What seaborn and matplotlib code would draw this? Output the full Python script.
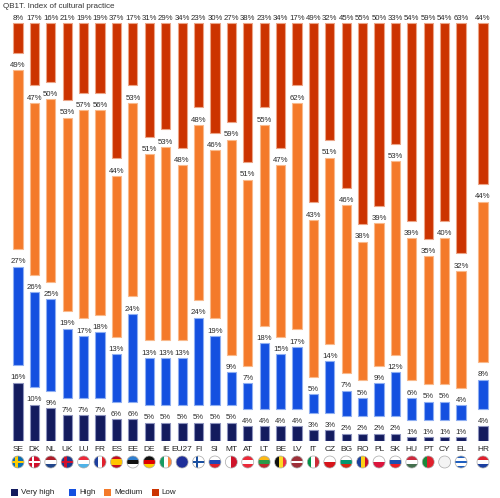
import numpy as np
import pandas as pd
import matplotlib
matplotlib.use("Agg")
import matplotlib.pyplot as plt
import seaborn as sns
from matplotlib.patches import Rectangle, Circle
from matplotlib.transforms import IdentityTransform

# ---------------- data ----------------
countries = ["SE", "DK", "NL", "UK", "LU", "FR", "ES", "EE", "DE", "IE", "EU27", "FI", "SI", "MT",
             "AT", "LT", "BE", "LV", "IT", "CZ", "BG", "RO", "PL", "SK", "HU", "PT", "CY", "EL", "HR"]
very_high = [16, 10, 9, 7, 7, 7, 6, 6, 5, 5, 5, 5, 5, 5, 4, 4, 4, 4, 3, 3, 2, 2, 2, 2, 1, 1, 1, 1, 4]
high = [27, 26, 25, 19, 17, 18, 13, 24, 13, 13, 13, 24, 19, 9, 7, 18, 15, 17, 5, 14, 7, 5, 9, 12, 6, 5, 5, 4, 8]
medium = [49, 47, 50, 53, 57, 56, 44, 53, 51, 53, 48, 48, 46, 59, 51, 55, 47, 62, 43, 51, 46, 38, 39, 53, 39, 35, 40, 32, 44]
low = [8, 17, 16, 21, 19, 19, 37, 17, 31, 29, 34, 23, 30, 27, 38, 23, 34, 17, 49, 32, 45, 55, 50, 33, 54, 59, 54, 63, 44]
series_names = ["Very high", "High", "Medium", "Low"]
title = "QB1T. Index of cultural practice"

# ---------------- style ----------------
colors = ["#131b5e", "#1450e0", "#f47a2a", "#cc3300"]
edges = ["#8d93bd", "#8eaef2", "#f9b98b", "#eca486"]

flags = {
    "SE": ("x", "#0a6fb4", "#ffcc00"), "DK": ("x", "#d0102c", "#ffffff"),
    "NL": ("h", ["#ae1c28", "#ffffff", "#21468b"]), "UK": ("x", "#1b3a8c", "#d0102c"),
    "LU": ("h", ["#ed2939", "#ffffff", "#4fb3e8"]), "FR": ("v", ["#1d3f9e", "#ffffff", "#e2202c"]),
    "ES": ("h", ["#c60b1e", "#ffc400", "#ffc400", "#c60b1e"]), "EE": ("h", ["#2f7fd0", "#111111", "#ffffff"]),
    "DE": ("h", ["#111111", "#dd0000", "#ffce00"]), "IE": ("v", ["#169b62", "#ffffff", "#ff883e"]),
    "EU27": ("s", "#1f2f9a"), "FI": ("x", "#ffffff", "#1a4fa0"),
    "SI": ("h", ["#ffffff", "#1e47b5", "#e0202c"]), "MT": ("v", ["#ffffff", "#cf142b"]),
    "AT": ("h", ["#ed2939", "#ffffff", "#ed2939"]), "LT": ("h", ["#fdb913", "#2a9a48", "#c1272d"]),
    "BE": ("v", ["#111111", "#fdda24", "#ef3340"]), "LV": ("h", ["#9e3039", "#9e3039", "#ffffff", "#9e3039", "#9e3039"]),
    "IT": ("v", ["#009246", "#ffffff", "#ce2b37"]), "CZ": ("h", ["#ffffff", "#d7141a"]),
    "BG": ("h", ["#ffffff", "#00966e", "#d62612"]), "RO": ("v", ["#1a3fa0", "#fcd116", "#ce1126"]),
    "PL": ("h", ["#ffffff", "#dc143c"]), "SK": ("h", ["#ffffff", "#1b4fb0", "#ee1c25"]),
    "HU": ("h", ["#cd2a3e", "#ffffff", "#436f4d"]), "PT": ("v", ["#1a8a3a", "#1a8a3a", "#e0202c", "#e0202c", "#e0202c"]),
    "CY": ("s", "#f4f4f4"), "EL": ("h", ["#1f5fc0", "#ffffff", "#1f5fc0", "#ffffff", "#1f5fc0"]),
    "HR": ("h", ["#e0202c", "#ffffff", "#1b3fa0"]),
}

sns.set_theme(style="white")
plt.rcParams["font.family"] = ["Liberation Sans", "DejaVu Sans"]

W, H = 500, 498
fig = plt.figure(figsize=(W / 100, H / 100), dpi=100)

PX0 = 18.0          # pixel centre of first bar
STEP = 16.41        # pixel distance between bars
BASE = 441.0        # pixel row of the baseline (from top)
TOP = 10.0
ax = fig.add_axes([0, (H - BASE) / H, 1, (BASE - TOP) / H])

n = len(countries)
xpos = np.arange(n, dtype=float)
xpos[-1] = (483 - PX0) / STEP
minstep = np.min(np.diff(xpos))
GAP = 4.8
PX_PER_UNIT = 3.65

bottom = np.zeros(n)
for k, vals in enumerate([very_high, high, medium, low]):
    vals = np.asarray(vals, dtype=float)
    df = pd.DataFrame({"pos": xpos, "val": vals})
    sns.barplot(data=df, x="pos", y="val", native_scale=True, width=0.56 / minstep,
                color=colors[k], saturation=1, edgecolor=edges[k], linewidth=0.8,
                bottom=bottom, errorbar=None, ax=ax)
    for x, b, v in zip(xpos, bottom, vals):
        ax.text(x, b + v + 0.35, f"{int(v)}%", ha="center", va="bottom",
                fontsize=5.6, color="#2a2a2a")
    bottom = bottom + vals + GAP

ax.set_xlim(-PX0 / STEP, (W - PX0) / STEP)
ax.set_ylim(0, (BASE - TOP) / PX_PER_UNIT)
ax.set_xticks(xpos)
ax.set_xticklabels(countries, fontsize=6, color="#222222")
ax.tick_params(axis="x", length=0, pad=3.5)
ax.set_yticks([])
ax.set_xlabel("")
ax.set_ylabel("")
for s in ax.spines.values():
    s.set_visible(False)

fig.text(3 / W, 1 - 6.5 / H, title, fontsize=5.8, va="center", ha="left", color="#333333")

# ---------------- flags ----------------
ident = IdentityTransform()
R = 6.0
CY_PX = H - 462
for c, x in zip(countries, xpos):
    cx = PX0 + STEP * x
    circ = Circle((cx, CY_PX), R, transform=ident, facecolor="none",
                  edgecolor="#a8a8a8", linewidth=0.5, zorder=5)
    clip = Circle((cx, CY_PX), R, transform=ident)
    spec = flags[c]
    parts = []
    if spec[0] == "s":
        parts.append(Rectangle((cx - R, CY_PX - R), 2 * R, 2 * R, facecolor=spec[1]))
    elif spec[0] == "h":
        m = len(spec[1])
        for i, col in enumerate(spec[1]):
            y0 = CY_PX + R - (i + 1) * 2 * R / m
            parts.append(Rectangle((cx - R, y0), 2 * R, 2 * R / m, facecolor=col))
    elif spec[0] == "v":
        m = len(spec[1])
        for i, col in enumerate(spec[1]):
            x0 = cx - R + i * 2 * R / m
            parts.append(Rectangle((x0, CY_PX - R), 2 * R / m, 2 * R, facecolor=col))
    elif spec[0] == "x":
        parts.append(Rectangle((cx - R, CY_PX - R), 2 * R, 2 * R, facecolor=spec[1]))
        parts.append(Rectangle((cx - R, CY_PX - 1.3), 2 * R, 2.6, facecolor=spec[2]))
        parts.append(Rectangle((cx - 2.8, CY_PX - R), 2.6, 2 * R, facecolor=spec[2]))
    for p in parts:
        p.set_transform(ident)
        p.set_linewidth(0)
        p.set_clip_path(clip)
        fig.add_artist(p)
    fig.add_artist(circ)

# ---------------- legend ----------------
leg_sq_x = [11, 69, 104, 152]
leg_tx_x = [21, 79, 114, 161]
LEG_Y = 492
for k, name in enumerate(series_names):
    sq = Rectangle((leg_sq_x[k], H - LEG_Y - 3.5), 7, 7, transform=ident,
                   facecolor=colors[k], edgecolor="none")
    fig.add_artist(sq)
    fig.text(leg_tx_x[k] / W, 1 - LEG_Y / H, name, fontsize=5.8, va="center",
             ha="left", color="#222222")

fig.savefig("out.png", dpi=100)
